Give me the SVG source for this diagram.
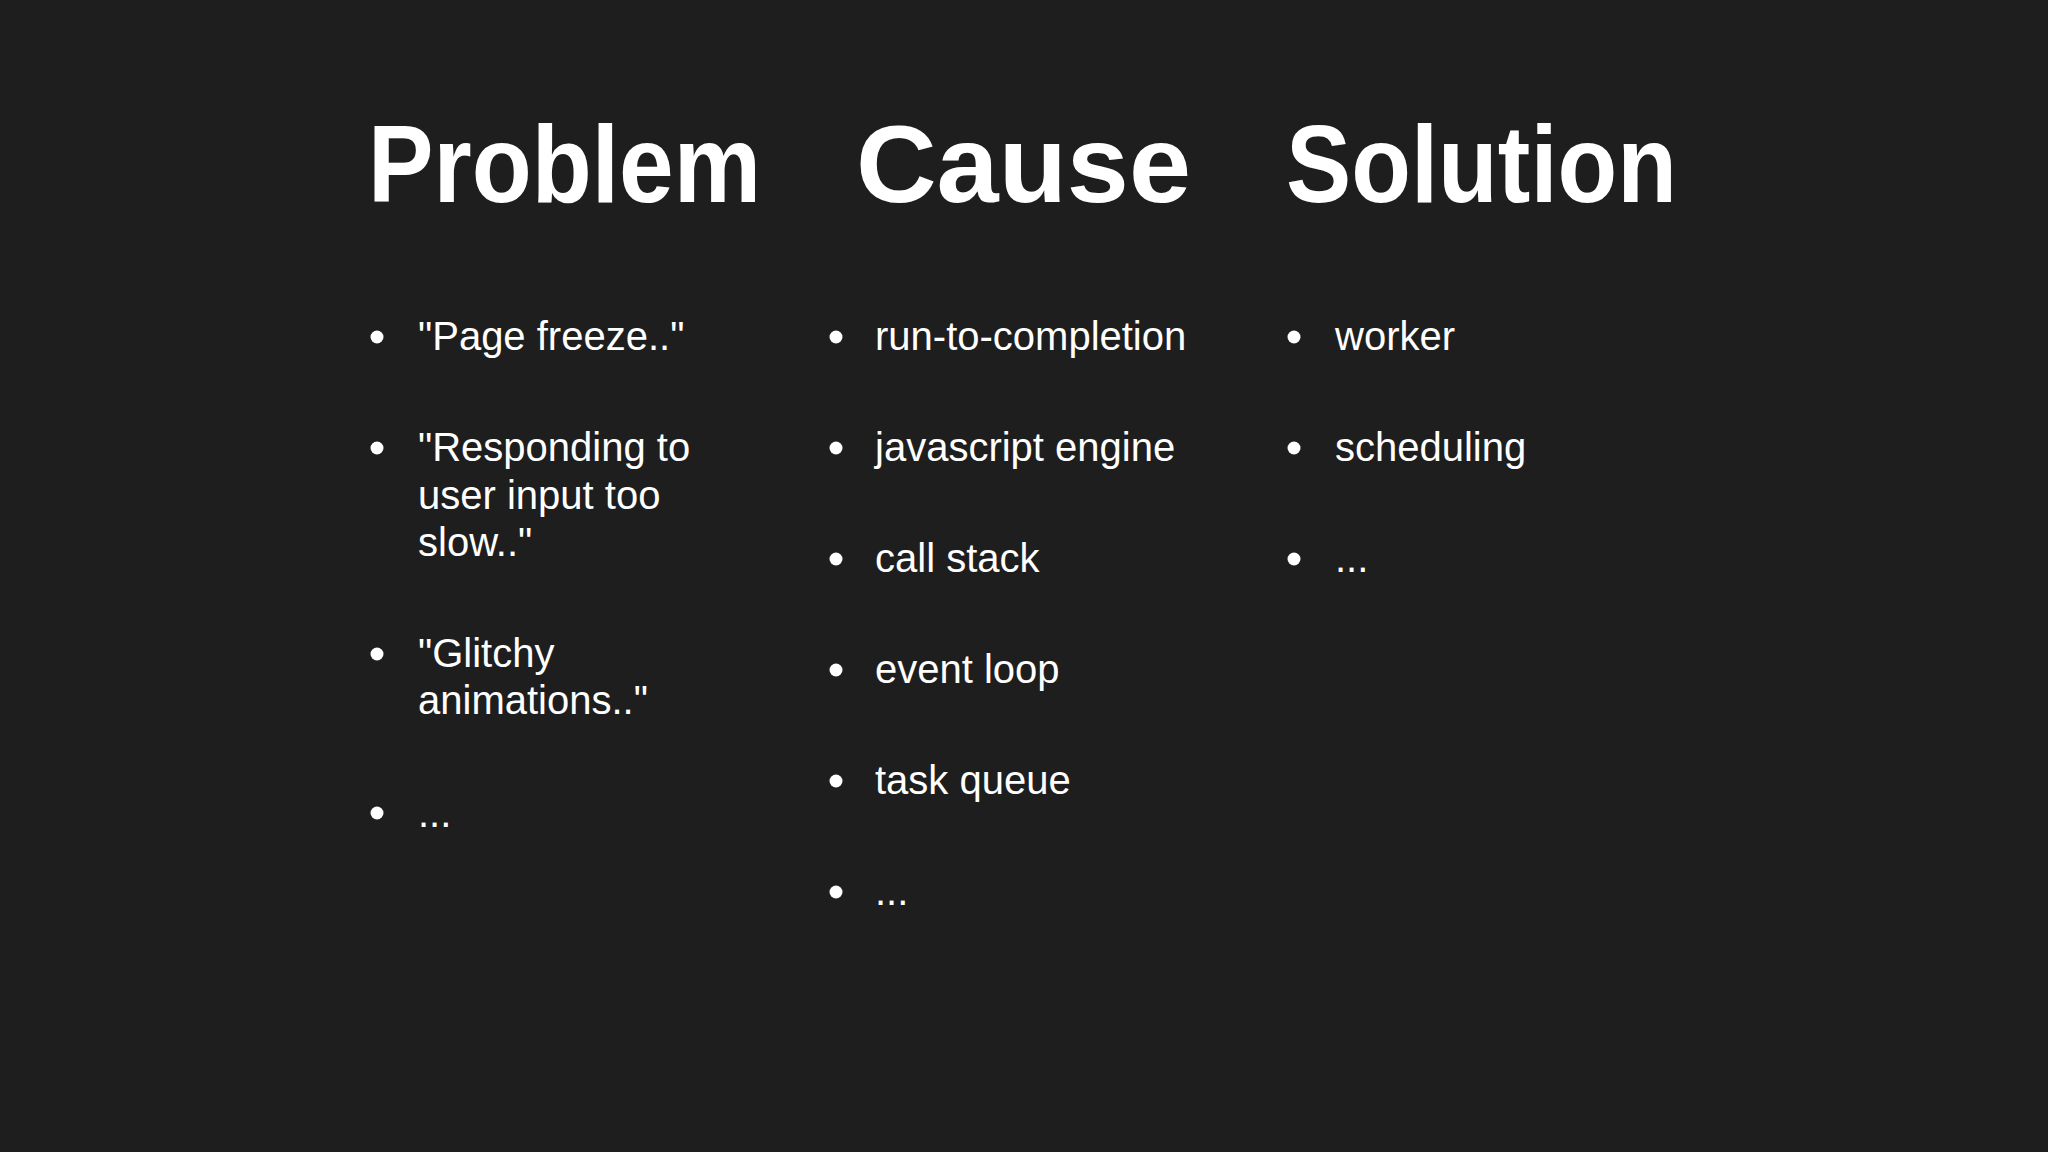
<svg xmlns="http://www.w3.org/2000/svg" width="2048" height="1152" viewBox="0 0 2048 1152">
<style>
.t{font-family:"Liberation Sans",Arial,sans-serif;font-weight:bold;font-size:110px;fill:#fff}
.b{font-family:"Liberation Sans",Arial,sans-serif;font-size:40px;fill:#fff}
circle{fill:#fff}
</style>
<rect width="2048" height="1152" fill="#1e1e1e"/>
<g id="problem">
<text class="t" x="368" y="202" textLength="393" lengthAdjust="spacingAndGlyphs">Problem</text>
<circle cx="377" cy="337" r="6.5"/><text class="b" x="418" y="350">"Page freeze.."</text>
<circle cx="377" cy="448" r="6.5"/><text class="b" x="418" y="461">"Responding to</text><text class="b" x="418" y="509">user input too</text><text class="b" x="418" y="556">slow.."</text>
<circle cx="377" cy="654" r="6.5"/><text class="b" x="418" y="667">"Glitchy</text><text class="b" x="418" y="714">animations.."</text>
<circle cx="377" cy="813" r="6.5"/><text class="b" x="418" y="827">...</text>
</g>
<g id="cause">
<text class="t" x="856" y="202" textLength="335" lengthAdjust="spacingAndGlyphs">Cause</text>
<circle cx="836" cy="337" r="6.5"/><text class="b" x="875" y="350">run-to-completion</text>
<circle cx="836" cy="448" r="6.5"/><text class="b" x="875" y="461">javascript engine</text>
<circle cx="836" cy="559" r="6.5"/><text class="b" x="875" y="572">call stack</text>
<circle cx="836" cy="670" r="6.5"/><text class="b" x="875" y="683">event loop</text>
<circle cx="836" cy="781" r="6.5"/><text class="b" x="875" y="794">task queue</text>
<circle cx="836" cy="892" r="6.5"/><text class="b" x="875" y="905">...</text>
</g>
<g id="solution">
<text class="t" x="1286" y="202" textLength="391" lengthAdjust="spacingAndGlyphs">Solution</text>
<circle cx="1294" cy="337" r="6.5"/><text class="b" x="1335" y="350">worker</text>
<circle cx="1294" cy="448" r="6.5"/><text class="b" x="1335" y="461">scheduling</text>
<circle cx="1294" cy="559" r="6.5"/><text class="b" x="1335" y="572">...</text>
</g>
<g id="connectors"/>
</svg>
